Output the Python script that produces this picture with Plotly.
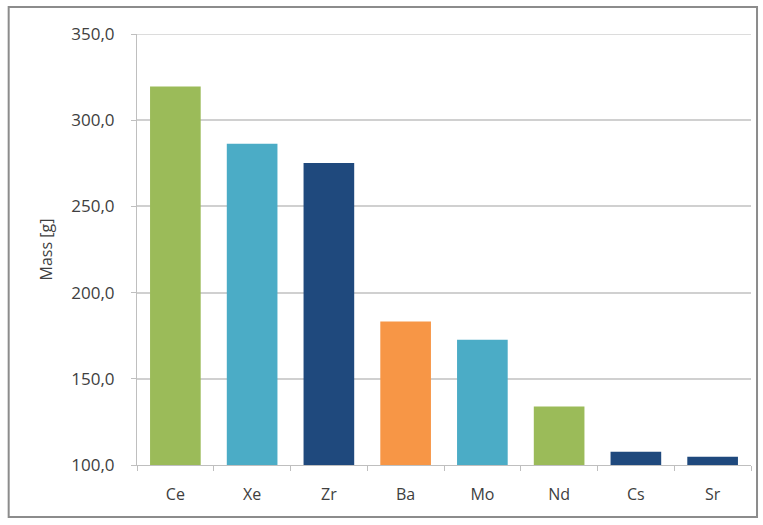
import plotly.graph_objects as go

# Fission product masses by element
elements = ["Ce", "Xe", "Zr", "Ba", "Mo", "Nd", "Cs", "Sr"]
mass_g = [319.5, 286.3, 275.2, 183.3, 172.6, 134.0, 107.7, 104.8]
bar_colors = ["#9BBB59", "#4BACC6", "#1F497D", "#F79646",
              "#4BACC6", "#9BBB59", "#1F497D", "#1F497D"]
y_ticks = [100, 150, 200, 250, 300, 350]
y_floor = 100

fig = go.Figure(
    go.Bar(
        x=elements,
        y=[v - y_floor for v in mass_g],
        base=y_floor,
        marker=dict(color=bar_colors, line=dict(width=0)),
        width=0.66,
    )
)

font_color = "#404040"
grid_color = "#d0d0d0"
fig.update_layout(
    width=763,
    height=525,
    margin=dict(l=137, r=12, t=34, b=60),
    paper_bgcolor="white",
    plot_bgcolor="white",
    separators=",.",
    showlegend=False,
    font=dict(family="Open Sans, Lato, sans-serif", size=16, color=font_color),
    xaxis=dict(
        type="category",
        showline=True,
        linecolor="#bfbfbf",
        linewidth=1,
        ticks="outside",
        tickson="boundaries",
        ticklen=5,
        tickcolor="#bfbfbf",
        ticklabelstandoff=15,
        tickfont=dict(size=16, color=font_color),
        showgrid=False,
    ),
    yaxis=dict(
        range=[100, 350],
        tickvals=y_ticks,
        tickformat=".1f",
        showline=True,
        linecolor="#bfbfbf",
        linewidth=1,
        ticks="outside",
        ticklen=5,
        tickcolor="#bfbfbf",
        ticklabelstandoff=13,
        showgrid=True,
        gridcolor=grid_color,
        gridwidth=1.5,
        zeroline=False,
        tickfont=dict(size=17, color=font_color),
        title=dict(text="Mass [g]", font=dict(size=16, color=font_color), standoff=14),
    ),
    shapes=[
        # top gridline at 350
        dict(
            type="line",
            xref="paper",
            yref="y",
            x0=0,
            x1=1,
            y0=350,
            y1=350,
            line=dict(color=grid_color, width=1.5),
        ),
        # outer chart frame
        dict(
            type="rect",
            xref="paper",
            yref="paper",
            x0=-0.209,
            x1=1.0098,
            y0=-0.1206,
            y1=1.0626,
            line=dict(color="#8c8c8c", width=2),
            fillcolor="rgba(0,0,0,0)",
            layer="below",
        ),
    ],
)

fig.write_html("out.html")
